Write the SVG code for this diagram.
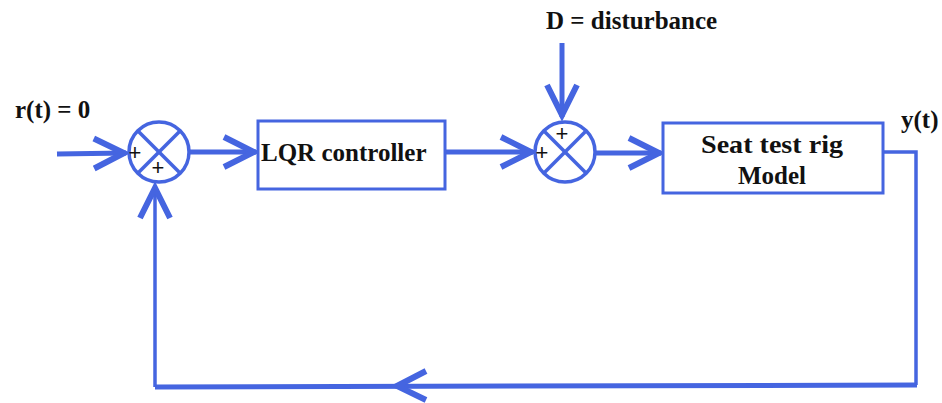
<svg xmlns="http://www.w3.org/2000/svg" width="942" height="403" viewBox="0 0 942 403">
<style>
.ln{fill:none;stroke:#4565e0;stroke-width:5}
.thin{fill:none;stroke:#4565e0;stroke-width:3.5}
.box{fill:#fff;stroke:#4565e0;stroke-width:3}
.sum{fill:#fff;stroke:#4565e0;stroke-width:3.5}
.x{stroke:#4565e0;stroke-width:3.5}
.chev{fill:none;stroke:#4565e0;stroke-width:6;stroke-linejoin:miter}
.t{font-family:"Liberation Serif","Times New Roman",serif;font-weight:bold;font-size:25px;fill:#111}
.pl{font-family:"Liberation Sans",Arial,sans-serif;font-size:22px;fill:#111}
</style>
<defs>
<marker id="ah" markerUnits="userSpaceOnUse" markerWidth="44" markerHeight="40" viewBox="0 0 44 40" refX="38" refY="20" orient="auto" overflow="visible">
<path d="M6 5 L36 20 L6 35" fill="none" stroke="#4565e0" stroke-width="6"/>
</marker>
</defs>
<g id="labels">
<text class="t" x="15" y="118">r(t) = 0</text>
<text class="t" x="546" y="29">D = disturbance</text>
<text class="t" x="901" y="128">y(t)</text>
</g>
<g id="connectors">
<path class="ln" d="M57 154 L126 153" marker-end="url(#ah)"/>
<path class="ln" d="M190 152 L256 152" marker-end="url(#ah)"/>
<path class="ln" d="M446 152 L533 152" marker-end="url(#ah)"/>
<path class="ln" d="M596 153 L661 153" marker-end="url(#ah)"/>
<path class="ln" d="M562 43 L562 117" marker-end="url(#ah)"/>
<path class="thin" d="M883 152 L916 152 L916 385"/>
<path class="ln" d="M917 385 L155 387"/>
<path class="thin" d="M155 387 L155 186" marker-end="url(#ah)"/>
<path class="chev" d="M426 371 L397 386 L426 400"/>
</g>
<g id="sum1">
<circle class="sum" cx="159" cy="152" r="30"/>
<line class="x" x1="138" y1="131" x2="180" y2="173"/>
<line class="x" x1="180" y1="131" x2="138" y2="173"/>
<text class="pl" x="135" y="160" text-anchor="middle">+</text>
<text class="pl" x="158" y="175" text-anchor="middle">+</text>
</g>
<g id="lqr">
<rect class="box" x="258" y="121" width="187" height="68"/>
<text class="t" x="261" y="161">LQR controller</text>
</g>
<g id="sum2">
<circle class="sum" cx="565" cy="152" r="30"/>
<line class="x" x1="544" y1="131" x2="586" y2="173"/>
<line class="x" x1="586" y1="131" x2="544" y2="173"/>
<text class="pl" x="562" y="141" text-anchor="middle">+</text>
<text class="pl" x="542" y="160" text-anchor="middle">+</text>
</g>
<g id="plant">
<rect class="box" x="663" y="123" width="220" height="70"/>
<text class="t" x="772" y="153" text-anchor="middle" font-size="27" textLength="142" lengthAdjust="spacingAndGlyphs">Seat test rig</text>
<text class="t" x="772" y="184" text-anchor="middle">Model</text>
</g>
</svg>
